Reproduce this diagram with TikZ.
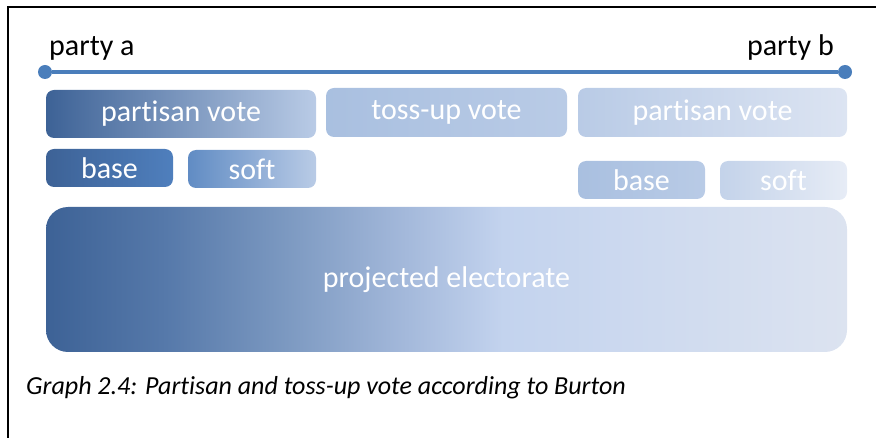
\documentclass[tikz,border=0pt]{standalone}
\usepackage{fontspec}
\setmainfont[Ligatures=NoCommon]{Carlito}

\definecolor{lineblue}{HTML}{4A7EBB}
\definecolor{dkblue}{HTML}{3D6296}
\definecolor{mdblue}{HTML}{4F7FBD}
\definecolor{ltblue}{HTML}{B9CBE6}
\definecolor{paleblue}{HTML}{DCE4F2}
\definecolor{peA}{HTML}{5679AA}
\definecolor{peB}{HTML}{7C99C1}
\definecolor{peC}{HTML}{A4B9DB}
\definecolor{peD}{HTML}{C3D3EE}
\definecolor{peE}{HTML}{DCE3F0}
\pgfdeclarehorizontalshading{electorate}{100bp}{color(0bp)=(dkblue); color(25bp)=(dkblue);
  color(32.5bp)=(peA); color(40bp)=(peB); color(47.5bp)=(peC);
  color(53.5bp)=(peD); color(75bp)=(peE); color(100bp)=(peE)}

\begin{document}
\begin{tikzpicture}[x=1pt,y=-1pt]
\useasboundingbox (0,0) rectangle (876,438);
\tikzset{Box/.style ={rounded corners=8pt, inner sep=0pt, text=white,
  font=\fontsize{30}{34}\selectfont}}
\tikzset{Dot/.style ={circle, fill=lineblue, minimum size=14pt, inner sep=0pt}}
\tikzset{Party/.style ={inner sep=0pt, font=\fontsize{30}{34}\selectfont}}
\draw[line width=1.5pt] (876,7) -| (8,438);
\node[Dot] (DA) at (45,72) {};
\node[Dot] (DB) at (845,72) {};
\draw[lineblue, line width=3.5pt] (DA) -- (DB);
\node[Party, anchor=base west] (LA) at (49,56) {party a};
\node[Party, anchor=base east] (LB) at (834,56) {party b};
\node[Box, minimum width=270pt, minimum height=48pt,
  left color=dkblue, right color=ltblue] (PA) at (181,114) {partisan vote};
\node[Box, minimum width=241pt, minimum height=49pt,
  left color=ltblue!85!mdblue, right color=ltblue] (TU) at (446.5,112.5) {toss-up vote};
\node[Box, minimum width=269pt, minimum height=49pt,
  left color=ltblue, right color=paleblue] (PB) at (712.5,112.5) {partisan vote};
\node[Box, minimum width=127pt, minimum height=38pt,
  left color=dkblue, right color=mdblue] (BA) at (109.5,168) {base};
\node[Box, minimum width=128pt, minimum height=38pt,
  left color=mdblue!90, right color=ltblue] (SA) at (252,169) {soft};
\node[Box, minimum width=127pt, minimum height=38pt,
  left color=ltblue!85!mdblue, right color=ltblue] (BB) at (641.5,180) {base};
\node[Box, minimum width=127pt, minimum height=39pt,
  left color=ltblue!70!paleblue, right color=paleblue!70!white] (SB) at (783.5,180.5) {soft};
\node[Box, rounded corners=22pt, minimum width=801pt, minimum height=145pt,
  shading=electorate] (PE) at (446.5,279.5) {projected electorate};
\node[inner sep=0pt, anchor=base west, font=\fontsize{26}{30}\selectfont\itshape] (CAP) at (26,395)
  {Graph 2.4: Partisan and toss-up vote according to Burton};
\end{tikzpicture}
\end{document}
